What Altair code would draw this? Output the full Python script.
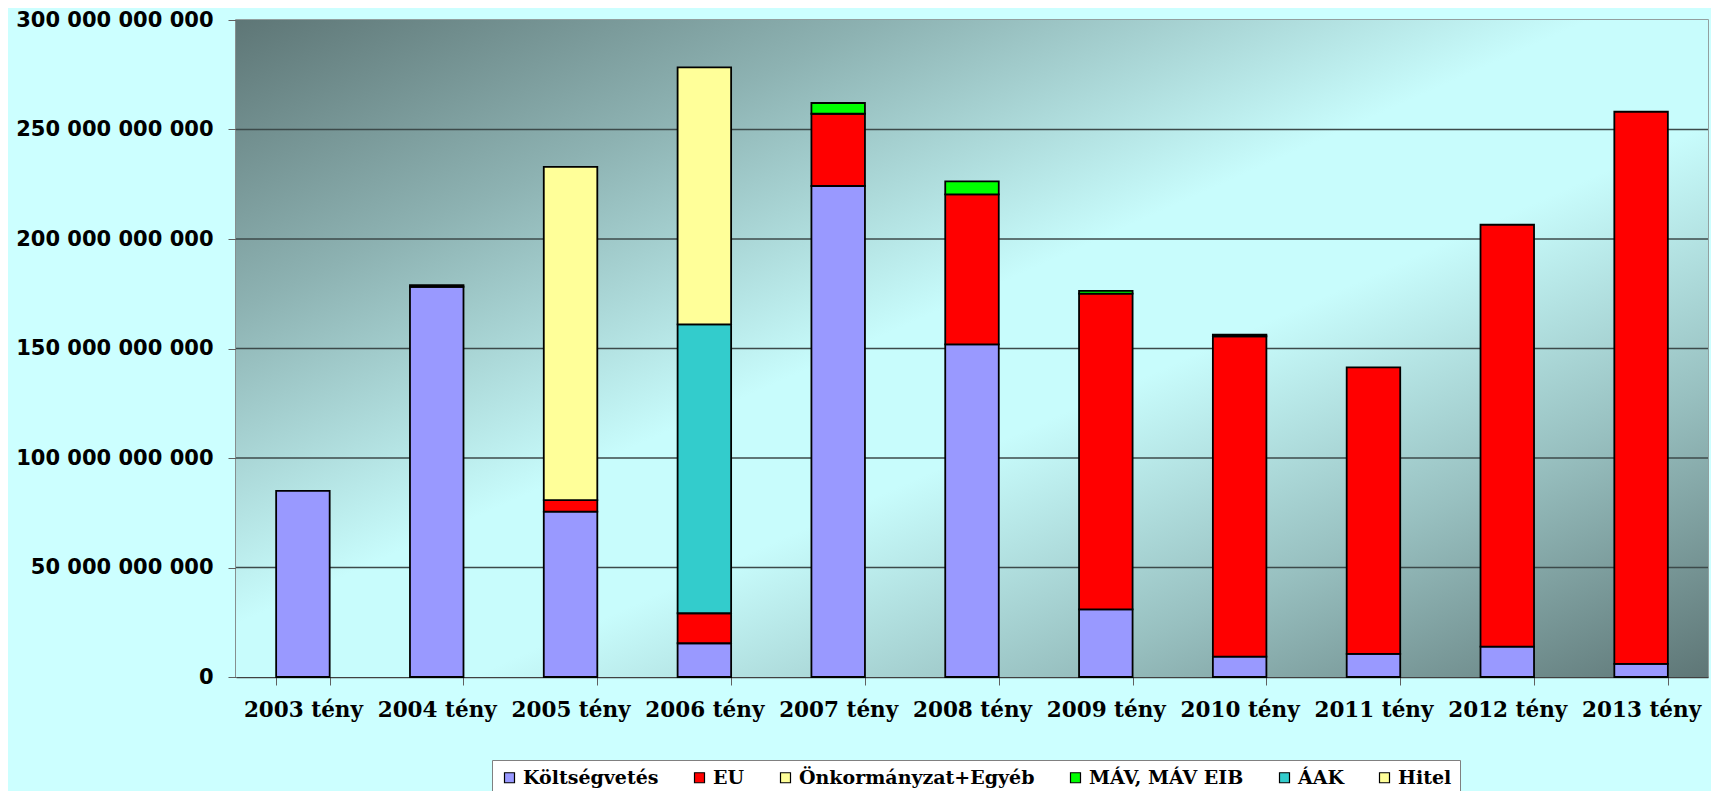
import altair as alt
import pandas as pd

# ---- data (values in billion HUF) ----
years = ["2003 tény", "2004 tény", "2005 tény", "2006 tény", "2007 tény", "2008 tény",
         "2009 tény", "2010 tény", "2011 tény", "2012 tény", "2013 tény"]
series = ["Költségvetés", "EU", "Önkormányzat+Egyéb", "MÁV, MÁV EIB", "ÁAK", "Hitel"]
colors = ["#9999FF", "#FF0000", "#FFFF99", "#00FF00", "#33CCCC", "#FFFF99"]

koltsegvetes = [85.0, 178.2, 75.5, 15.4, 224.2, 151.9, 30.9, 9.3, 10.6, 13.9, 6.0]
eu = [0.0, 0.0, 5.3, 13.7, 33.0, 68.5, 144.2, 146.3, 130.8, 192.6, 252.1]
onkormanyzat = [0.0, 0.7, 0.0, 0.0, 0.0, 0.0, 0.0, 0.0, 0.0, 0.0, 0.0]
mav = [0.0, 0.0, 0.0, 0.0, 4.9, 5.9, 1.2, 0.7, 0.0, 0.0, 0.0]
aak = [0.0, 0.0, 0.0, 131.9, 0.0, 0.0, 0.0, 0.0, 0.0, 0.0, 0.0]
hitel = [0.0, 0.0, 152.1, 117.4, 0.0, 0.0, 0.0, 0.0, 0.0, 0.0, 0.0]

y_ticks = [0, 50e9, 100e9, 150e9, 200e9, 250e9, 300e9]
grid_vals = [50e9, 100e9, 150e9, 200e9, 250e9]

all_series = [koltsegvetes, eu, onkormanyzat, mav, aak, hitel]
rows = []
for si, (name, vals) in enumerate(zip(series, all_series)):
    for yr, v in zip(years, vals):
        if v > 0:
            rows.append({"year": yr, "series": name, "idx": si, "value": v * 1e9})
df = pd.DataFrame(rows)

W, H = 1472, 657

y_axis = alt.Axis(
    title=None, values=y_ticks,
    labelExpr="replace(format(datum.value, ','), /,/g, ' ')",
    labelFont="DejaVu Sans", labelFontSize=21, labelFontWeight="bold", labelColor="black",
    labelLimit=0,
    tickSize=8, tickColor="#606060", labelPadding=15, grid=False,
    domainColor="#606060", domainWidth=1.5,
)
y_scale = alt.Scale(domain=[0, 300e9], nice=False, zero=True)

grad = alt.LinearGradient(
    gradient="linear", x1=0, y1=0, x2=1, y2=1,
    stops=[
        alt.GradientStop(offset=0.0, color="#5E7676"),
        alt.GradientStop(offset=0.22, color="#8DB2B2"),
        alt.GradientStop(offset=0.46, color="#C8FCFC"),
        alt.GradientStop(offset=0.58, color="#C8FCFC"),
        alt.GradientStop(offset=0.78, color="#98C0C0"),
        alt.GradientStop(offset=1.0, color="#5E7676"),
    ],
)

bg = alt.Chart(alt.Data(values=[{}])).mark_rect(fill=grad).encode(
    x=alt.value(0), x2=alt.value(W), y=alt.value(0), y2=alt.value(H)
)

grid = alt.Chart(pd.DataFrame({"value": grid_vals})).mark_rule(
    color="#3C4A4A", strokeWidth=1.5
).encode(y=alt.Y("value:Q", scale=y_scale, axis=y_axis))

bars = alt.Chart(df).mark_bar(stroke="black", strokeWidth=1.8, opacity=1).encode(
    x=alt.X(
        "year:N", sort=years,
        scale=alt.Scale(domain=years, paddingInner=0.6, paddingOuter=0.3),
        axis=alt.Axis(
            title=None, labelAngle=0, labelFont="DejaVu Serif", labelFontSize=21.5,
            labelFontWeight="bold", labelColor="black", labelLimit=0,
            tickBand="extent", tickSize=8,
            tickColor="#606060", labelPadding=14, grid=False,
            domainColor="#404040", domainWidth=1.5,
        ),
    ),
    y=alt.Y("value:Q", stack="zero", scale=y_scale, axis=y_axis),
    color=alt.Color(
        "series:N",
        scale=alt.Scale(domain=series, range=colors),
        legend=alt.Legend(
            title=None, orient="none", legendX=256, legendY=740,
            direction="horizontal", columns=6,
            symbolType="square", symbolSize=100, symbolStrokeColor="black",
            symbolStrokeWidth=1.2, symbolOpacity=1,
            labelFont="DejaVu Serif", labelFontSize=19, labelFontWeight="bold",
            labelColor="black", labelLimit=0, fillColor="white", strokeColor="#808080",
            padding=8, columnPadding=31, labelOffset=4,
        ),
    ),
    order=alt.Order("idx:Q", sort="ascending"),
)

chart = alt.layer(bg, grid, bars).properties(
    width=W, height=H,
    padding={"left": 228, "top": 12, "right": 3, "bottom": 114},
    autosize=alt.AutoSizeParams(type="none"),
).configure(
    background="#CCFFFF"
).configure_view(
    stroke="#808080", strokeWidth=1.5
)

chart.save("out.html", embed_options={"renderer": "svg", "actions": False})
